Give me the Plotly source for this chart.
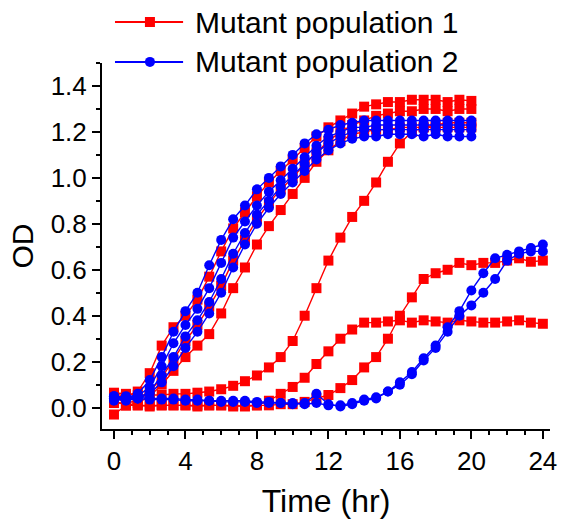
import plotly.graph_objects as go

# Sampling times (hr), one reading every 40 min
TIME = [0, 0.67, 1.33, 2, 2.67, 3.33, 4, 4.67, 5.33, 6, 6.67, 7.33, 8, 8.67,
        9.33, 10, 10.67, 11.33, 12, 12.67, 13.33, 14, 14.67, 15.33, 16, 16.67,
        17.33, 18, 18.67, 19.33, 20, 20.67, 21.33, 22, 22.67, 23.33, 24]

# Mutant population 1 (OD readings)
POP1_A = [0.06, 0.05, 0.07, 0.15, 0.27, 0.35, 0.40, 0.47, 0.57, 0.68, 0.78, 0.85,
          0.92, 0.98, 1.03, 1.08, 1.13, 1.18, 1.22, 1.25, 1.28, 1.31, 1.32, 1.33,
          1.33, 1.34, 1.34, 1.34, 1.33, 1.34, 1.335]
POP1_B = [0.02, 0.02, 0.03, 0.07, 0.13, 0.21, 0.29, 0.36, 0.44, 0.53, 0.64, 0.73,
          0.82, 0.89, 0.95, 1.00, 1.06, 1.11, 1.16, 1.20, 1.23, 1.25, 1.27, 1.28,
          1.29, 1.29, 1.30, 1.30, 1.29, 1.30, 1.30]
POP1_C = [0.03, 0.01, 0.02, 0.05, 0.10, 0.16, 0.22, 0.27, 0.32, 0.41, 0.52, 0.61,
          0.71, 0.79, 0.86, 0.93, 1.00, 1.07, 1.12, 1.16, 1.19, 1.20, 1.21, 1.21,
          1.22, 1.22, 1.22, 1.22, 1.22, 1.22, 1.22]
POP1_D = [0.065, 0.06, 0.055, 0.055, 0.055, 0.06, 0.06, 0.065, 0.07, 0.08, 0.095,
          0.115, 0.14, 0.175, 0.22, 0.29, 0.40, 0.52, 0.64, 0.74, 0.83, 0.90, 0.98,
          1.07, 1.15, 1.20, 1.22, 1.23, 1.24, 1.24, 1.24]
POP1_E = [0.06, 0.01, 0.01, 0.01, 0.01, 0.01, 0.01, 0.01, 0.01, 0.01, 0.01, 0.005,
          0.01, 0.03, 0.06, 0.09, 0.13, 0.19, 0.245, 0.30, 0.34, 0.37, 0.37, 0.375,
          0.38, 0.37, 0.38, 0.375, 0.37, 0.38, 0.375, 0.37, 0.37, 0.375, 0.38, 0.37,
          0.365]
POP1_F = [-0.03, 0.01, 0.01, 0.005, 0.01, 0.01, 0.01, 0.005, 0.01, 0.01, 0.005,
          0.01, 0.01, 0.01, 0.015, 0.015, 0.025, 0.04, 0.055, 0.085, 0.12, 0.175,
          0.22, 0.30, 0.40, 0.48, 0.56, 0.585, 0.60, 0.63, 0.62, 0.63, 0.63, 0.64,
          0.65, 0.635, 0.64]

# Mutant population 2 (OD readings)
POP2_A = [0.05, 0.04, 0.06, 0.12, 0.22, 0.33, 0.42, 0.50, 0.62, 0.73, 0.82, 0.88,
          0.95, 1.00, 1.05, 1.10, 1.15, 1.19, 1.21, 1.23, 1.24, 1.25, 1.25, 1.25,
          1.25, 1.25, 1.25, 1.25, 1.25, 1.25, 1.25]
POP2_B = [0.04, 0.05, 0.05, 0.09, 0.18, 0.28, 0.36, 0.43, 0.52, 0.63, 0.74, 0.81,
          0.88, 0.94, 0.99, 1.04, 1.09, 1.14, 1.18, 1.20, 1.22, 1.22, 1.23, 1.23,
          1.23, 1.23, 1.23, 1.23, 1.23, 1.23, 1.23]
POP2_C = [0.03, 0.04, 0.04, 0.07, 0.14, 0.22, 0.31, 0.38, 0.46, 0.56, 0.67, 0.76,
          0.84, 0.90, 0.96, 1.01, 1.06, 1.11, 1.15, 1.18, 1.20, 1.21, 1.21, 1.21,
          1.21, 1.21, 1.21, 1.21, 1.21, 1.21, 1.21]
POP2_D = [0.04, 0.03, 0.04, 0.06, 0.11, 0.18, 0.26, 0.33, 0.41, 0.50, 0.61, 0.71,
          0.80, 0.87, 0.93, 0.98, 1.03, 1.08, 1.12, 1.15, 1.17, 1.18, 1.18, 1.19,
          1.19, 1.19, 1.18, 1.19, 1.18, 1.18, 1.18]
POP2_E = [0.05, 0.045, 0.045, 0.04, 0.04, 0.04, 0.035, 0.035, 0.03, 0.03, 0.03,
          0.03, 0.025, 0.025, 0.02, 0.02, 0.015, 0.02, 0.01, 0.01, 0.02, 0.035,
          0.045, 0.07, 0.11, 0.155, 0.215, 0.27, 0.35, 0.42, 0.51, 0.585, 0.65,
          0.665, 0.68, 0.695, 0.71]
POP2_F = [0.04, 0.04, 0.04, 0.035, 0.035, 0.035, 0.03, 0.03, 0.03, 0.025, 0.025,
          0.025, 0.02, 0.02, 0.02, 0.015, 0.02, 0.06, 0.015, 0.005, 0.015, 0.03,
          0.04, 0.07, 0.10, 0.145, 0.205, 0.26, 0.33, 0.40, 0.445, 0.50, 0.56,
          0.64, 0.67, 0.68, 0.68]

POP1 = [POP1_A, POP1_B, POP1_C, POP1_D, POP1_E, POP1_F]
POP2 = [POP2_A, POP2_B, POP2_C, POP2_D, POP2_E, POP2_F]

SERIES_NAMES = ["Mutant population 1", "Mutant population 2"]

X_TICKS = [0, 4, 8, 12, 16, 20, 24]
Y_TICKS = [0.0, 0.2, 0.4, 0.6, 0.8, 1.0, 1.2, 1.4]
Y_TICK_TEXT = ["0.0", "0.2", "0.4", "0.6", "0.8", "1.0", "1.2", "1.4"]

FONT = "Arial, Liberation Sans, sans-serif"
RED = "#FF0000"
BLUE = "#0000FF"

fig = go.Figure()


def add_group(series_list, name, color, symbol):
    for ys in series_list:
        fig.add_trace(go.Scatter(
            x=TIME[:len(ys)], y=ys,
            mode="lines+markers",
            name=name,
            showlegend=False,
            line=dict(color=color, width=1.4),
            marker=dict(color=color, symbol=symbol, size=10, line=dict(width=0)),
        ))


add_group(POP1, SERIES_NAMES[0], RED, "square")
add_group(POP2, SERIES_NAMES[1], BLUE, "circle")

# Key above the plot: a line with a marker, then the series name
KEY_ROWS = [(SERIES_NAMES[0], RED, "rect", 1.112),
            (SERIES_NAMES[1], BLUE, "circle", 1.003)]
KEY_LINE_X = (0.029, 0.181)
KEY_MARK_X = 0.107
KEY_TEXT_X = 0.203

for label, color, shape_type, yk in KEY_ROWS:
    fig.add_shape(type="line", xref="paper", yref="paper",
                  x0=KEY_LINE_X[0], x1=KEY_LINE_X[1], y0=yk, y1=yk,
                  line=dict(color=color, width=2))
    fig.add_shape(type=shape_type, xref="paper", yref="paper",
                  xsizemode="pixel", ysizemode="pixel",
                  xanchor=KEY_MARK_X, yanchor=yk,
                  x0=-5, x1=5, y0=-5, y1=5,
                  fillcolor=color, line=dict(width=0))
    fig.add_annotation(text=label, xref="paper", yref="paper",
                       x=KEY_TEXT_X, y=yk, xanchor="left", yanchor="middle",
                       showarrow=False,
                       font=dict(family=FONT, size=30, color="black"))

axis_common = dict(
    showline=True, linecolor="black", linewidth=2,
    ticks="outside", ticklen=8, tickwidth=2, tickcolor="black",
    showgrid=False, zeroline=False, mirror=False, automargin=False,
    tickfont=dict(family=FONT, size=26, color="black"),
)

fig.update_xaxes(
    range=[-0.67, 24.4], tickvals=X_TICKS,
    minor=dict(dtick=1, tick0=0, ticks="outside", ticklen=4, tickwidth=1.5,
               tickcolor="black"),
    title=dict(text="Time (hr)", font=dict(family=FONT, size=32, color="black"),
               standoff=14),
    **axis_common,
)
fig.update_yaxes(
    range=[-0.093, 1.5], tickvals=Y_TICKS, ticktext=Y_TICK_TEXT,
    minor=dict(dtick=0.1, tick0=0, ticks="outside", ticklen=4, tickwidth=1.5,
               tickcolor="black"),
    title=dict(text="OD", font=dict(family=FONT, size=30, color="black"),
               standoff=8),
    **axis_common,
)

fig.update_layout(
    width=561, height=525,
    margin=dict(l=102, r=11, t=63, b=96),
    paper_bgcolor="white", plot_bgcolor="white",
    showlegend=False,
)

fig.write_html("out.html")
